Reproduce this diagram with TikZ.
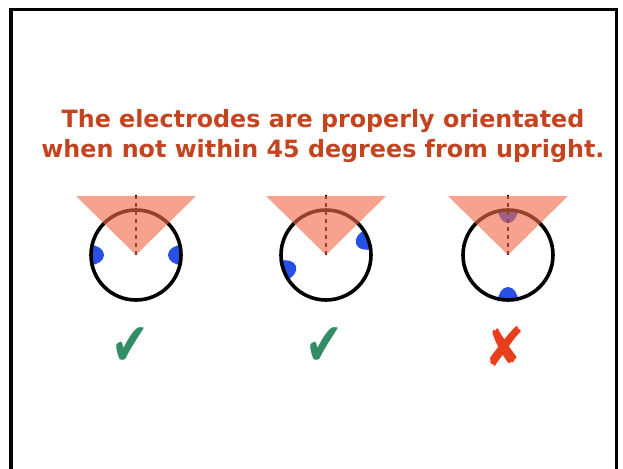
\documentclass[tikz,border=0pt]{standalone}
\usepackage{fontspec}
\usepackage{xcolor}
\newfontfamily\dejavu{DejaVu Sans}
\definecolor{titlered}{RGB}{196,68,32}
\definecolor{conefill}{RGB}{240,105,75}
\definecolor{elecblue}{RGB}{40,80,230}
\definecolor{okgreen}{RGB}{50,140,100}
\definecolor{badred}{RGB}{232,62,28}
\usetikzlibrary{positioning,calc}
% electrode: half-disc on the inner side of a head ring
\newcommand\electrode[2]{%
  \fill[elec, shift={(#1)}, rotate=#2]
    (46,10) arc[start angle=90, end angle=270, x radius=14, y radius=10] -- cycle;}

\begin{document}
\begin{tikzpicture}[
  x=0.5pt, y=0.5pt,
  headline/.style={
    font=\dejavu\bfseries\fontsize{11.9}{15}\selectfont,
    text=titlered, align=center, inner sep=0pt
  },
  headring/.style={
    circle, draw=black, line width=1.8pt,
    minimum size=45pt, inner sep=0pt
  },
  elec/.style={fill=elecblue},
  cone/.style={fill=conefill, fill opacity=0.62},
  vertline/.style={draw=black, line width=1.1pt, dash pattern=on 2pt off 2pt},
  okmark/.style={font=\dejavu\fontsize{30}{30}\selectfont, text=okgreen, inner sep=0pt},
  badmark/.style={font=\dejavu\fontsize{27}{27}\selectfont, text=badred, inner sep=0pt}
]
\useasboundingbox (0,0) rectangle (623,468);

% frame, open at the bottom
\draw[line width=1.5pt] (11,-5) -- (11,458.5) -- (616,458.5) -- (616,-5);

\node[headline] (caption) at (323,332)
  {The electrodes are properly orientated\\
   when not within 45 degrees from upright.};

\coordinate (c1) at (136,213);
\coordinate (c2) at (326,213);
\coordinate (c3) at (508,213);

% electrodes
\electrode{c1}{0}
\electrode{c1}{180}
\electrode{c2}{20}
\electrode{c2}{200}
\electrode{c3}{90}
\electrode{c3}{270}

\node[headring] (h1) at (c1) {};
\node[headring] (h2) at (c2) {};
\node[headring] (h3) at (c3) {};

% upright line and 45 degree cone
\draw[vertline] (h1.center) -- ++(0,61);
\draw[vertline] (h2.center) -- ++(0,61);
\draw[vertline] (h3.center) -- ++(0,61);
\fill[cone] (h1.center) -- ++(-60,59) -- ++(120,0) -- cycle;
\fill[cone] (h2.center) -- ++(-60,59) -- ++(120,0) -- cycle;
\fill[cone] (h3.center) -- ++(-60,59) -- ++(120,0) -- cycle;

\node[okmark] (ok1) at (130,121) {\scalebox{0.75}[1]{✔}};
\node[okmark] (ok2) at (324,121) {\scalebox{0.75}[1]{✔}};
\node[badmark] (bad3) at (505,121) {\scalebox{0.9}[1]{✘}};
\end{tikzpicture}
\end{document}
